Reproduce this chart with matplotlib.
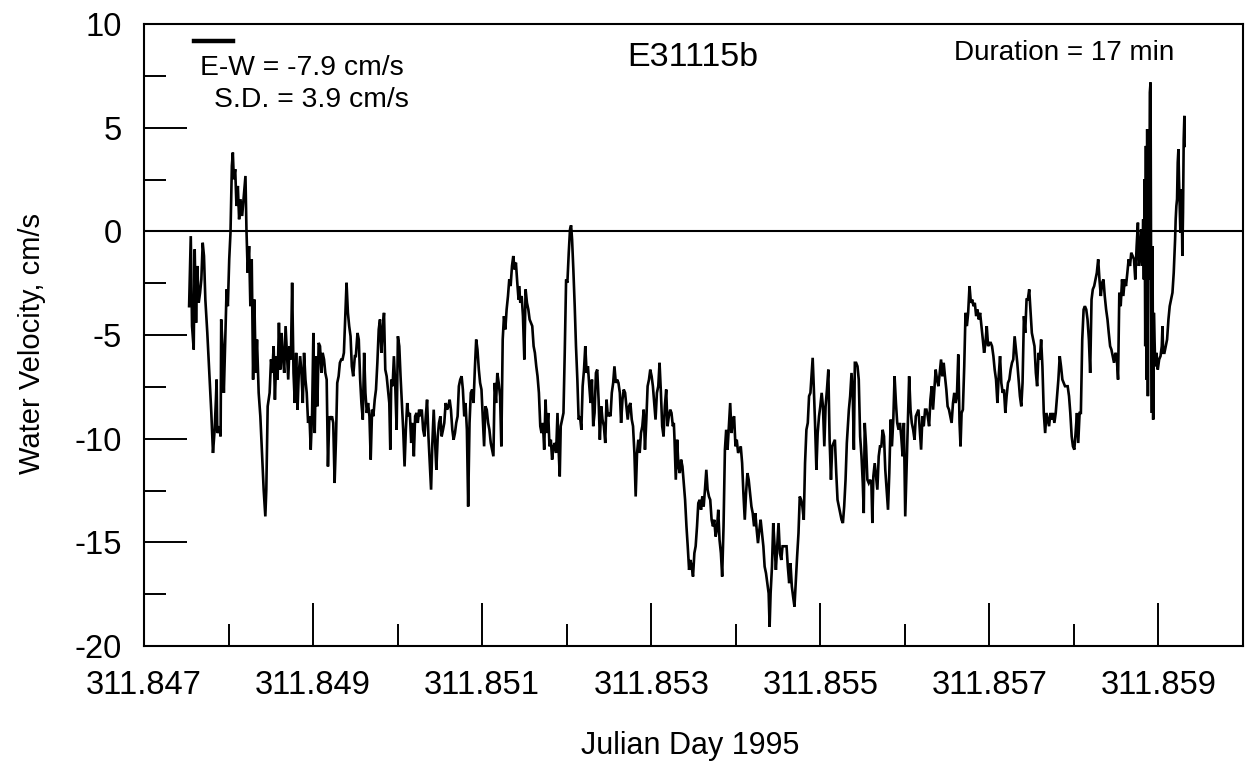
import numpy as np
import matplotlib
matplotlib.use("Agg")
import matplotlib.pyplot as plt
from matplotlib.ticker import FixedLocator, FixedFormatter, NullFormatter
from matplotlib.lines import Line2D

plt.rcParams['font.family'] = ['Liberation Sans', 'DejaVu Sans']
plt.rcParams['axes.unicode_minus'] = False

# Record start reference (Julian day) and elapsed time of each sample, in seconds
DAY0 = 311.847
seconds = [
    46.1, 47.8, 49.1, 50.1, 50.8, 51.8, 53.2, 54.5, 55.9, 57.3, 58.6, 60.0, 61.3, 62.7, 64.7, 66.7,
    68.8, 70.5, 72.2, 73.5, 74.2, 74.9, 76.9, 78.3, 78.9, 80.3, 81.6, 83.0, 84.4, 85.7, 87.1, 88.4,
    89.8, 90.8, 91.8, 93.2, 94.5, 95.9, 97.2, 98.6, 100.3, 102.0, 103.7, 104.7, 106.0, 107.4, 108.7,
    110.1, 111.5, 112.8, 114.2, 115.5, 117.2, 118.9, 120.6, 122.3, 124.0, 125.0, 126.4, 128.4, 129.8,
    131.1, 132.5, 133.8, 135.2, 136.5, 137.9, 139.2, 140.6, 141.9, 143.3, 144.7, 146.0, 147.4, 148.7,
    150.1, 151.4, 152.8, 154.1, 155.5, 156.9, 158.2, 159.6, 160.9, 162.3, 163.6, 165.0, 166.3, 167.7,
    169.1, 170.4, 171.8, 173.1, 174.5, 175.8, 177.2, 178.5, 179.9, 181.3, 182.6, 184.0, 185.3, 186.7,
    188.0, 189.4, 190.7, 192.1, 193.4, 194.8, 196.2, 197.5, 198.9, 200.2, 201.6, 202.9, 204.3, 205.6,
    207.0, 208.4, 209.7, 211.1, 212.4, 213.8, 215.5,
    216.5, 218.2, 219.5, 220.9, 222.2, 223.6, 225.0, 226.3, 227.7, 229.0, 230.4, 231.7, 233.1, 234.4,
    235.8, 237.1, 238.5, 239.9, 241.2, 242.6, 243.9, 245.3, 246.6, 248.0, 249.3, 250.7, 251.7, 252.7,
    254.1, 255.4, 256.8, 258.2, 259.5, 260.9, 262.2, 263.6, 264.9, 266.3, 267.6, 269.0, 270.3, 271.7,
    273.1, 274.4, 275.8, 277.1, 278.5, 279.8, 281.2, 282.5, 283.9, 285.3, 286.6, 288.0, 289.3, 290.7,
    292.0, 293.4, 294.7, 296.1, 297.5, 298.8, 300.2, 301.5, 302.9, 304.2, 305.6, 306.9, 308.3, 309.7,
    311.0, 312.4, 313.7, 315.1, 316.4, 317.8, 319.1, 320.5, 321.8, 323.2, 324.6, 325.9, 327.3, 328.6,
    330.0, 331.3, 332.7, 334.0, 335.4, 336.8, 338.1, 339.5, 340.8, 342.2, 343.5, 344.9, 346.2, 347.6,
    348.9, 350.3, 351.7, 353.0, 354.4, 355.7, 357.1, 358.4, 359.8, 361.1, 362.5, 363.9, 365.2, 366.6,
    367.9, 369.3, 370.6, 372.0, 373.3, 374.7, 376.1, 377.4, 378.8, 380.1, 381.5, 382.8,
    383.3, 384.6, 386.0, 387.3, 388.7, 390.0, 391.4, 392.8, 394.1, 395.5, 396.8, 398.2, 399.5, 400.9,
    402.2, 403.6, 405.0, 406.3, 407.7, 409.0, 410.4, 411.7, 413.1, 414.4, 415.8, 417.1, 418.5, 419.9,
    421.2, 422.6, 423.9, 424.9, 425.9, 427.3, 428.7, 430.0, 431.4, 432.7, 434.1, 435.4, 436.5, 437.5,
    438.8, 440.2, 441.5, 442.9, 444.2, 445.6, 447.0, 448.3, 449.7, 451.0, 452.4, 453.7, 455.1, 456.4,
    457.8, 459.1, 460.5, 461.9, 463.2, 464.6, 465.9, 467.3, 468.6, 470.0, 471.4, 472.7, 474.1, 475.4,
    476.8, 478.1, 479.5, 480.8, 482.2, 483.5, 484.9, 486.3, 487.6, 489.0, 490.3, 491.7, 493.0, 494.4,
    495.7, 497.1, 498.5, 499.8, 501.2, 502.5, 503.9, 505.2, 506.6, 507.9, 509.3, 510.7, 512.0, 513.4,
    514.7, 516.1, 517.4, 518.8, 520.1, 521.5, 522.8, 524.2, 525.6, 526.9, 528.3, 529.6, 531.0, 532.3,
    533.7, 535.0, 536.4, 537.8, 539.1, 540.5,
    541.5, 542.2, 543.5, 544.9, 546.2, 547.6, 548.9, 550.3, 551.6, 553.0, 554.4, 555.7, 557.1, 558.4,
    559.8, 561.1, 562.5, 563.8, 565.2, 566.5, 567.9, 569.3, 570.6, 572.0, 573.3, 574.7, 576.0, 577.4,
    578.7, 580.1, 581.5, 582.8, 584.2, 585.5, 586.9, 588.2, 589.6, 590.9, 592.3, 593.7, 595.0, 596.4,
    597.7, 599.1, 600.4, 601.8, 603.1, 604.5, 605.8, 607.2, 608.6, 609.9, 611.3, 612.6, 614.0, 615.3,
    616.7, 618.0, 619.4, 620.8, 622.1, 623.5, 624.8, 626.2, 627.5, 628.9, 630.2, 631.6, 633.0, 634.3,
    635.7, 637.0, 638.4, 639.4, 640.4, 641.8, 643.1, 644.5, 645.8, 647.2, 648.5, 649.9, 651.3, 652.6,
    654.0, 655.3, 656.7, 658.0, 659.4, 660.7, 662.1, 663.4, 664.8, 666.2, 667.5, 668.9, 670.2, 671.6,
    672.9, 674.3, 675.6, 677.0, 678.4, 679.7, 681.1, 682.4, 683.4, 684.5, 685.8, 687.2, 688.5, 689.9,
    691.2, 692.6, 693.9, 695.3, 696.6, 698.0, 699.4, 700.7, 702.1, 703.4, 704.8, 706.1, 707.5, 708.8,
    710.2, 711.6, 712.9, 714.3, 715.6, 717.0, 718.3,
    720.4, 721.7, 723.1, 724.4, 725.5, 726.5, 727.8, 729.2, 730.5, 731.9, 733.3, 734.6, 735.6, 736.6,
    738.0, 739.3, 740.7, 742.1, 743.4, 744.4, 745.4, 746.8, 748.2, 749.5, 750.9, 752.2, 753.6, 754.9,
    756.3, 757.6, 759.0, 760.4, 761.7, 763.1, 764.4, 765.8, 767.1, 768.5, 769.8, 771.2, 772.6, 773.9,
    775.3, 776.6, 778.0, 779.3, 780.7, 782.0, 783.4, 784.7, 786.1, 787.5, 788.8, 790.2, 791.5, 792.9,
    794.2, 795.6, 796.9, 798.3, 799.7, 801.0, 802.4, 803.7, 805.1, 806.4, 807.8, 809.1, 810.5, 811.9,
    813.2, 814.6, 815.9, 817.3, 818.6, 820.0, 821.3, 822.7, 824.0, 825.4, 826.8, 828.1, 829.5, 830.8,
    832.2, 833.5, 834.5, 835.6, 836.9, 838.3, 839.6, 841.0, 842.3, 843.7, 845.1, 846.4, 847.8, 849.1,
    850.5, 851.8, 853.2, 854.5, 855.9, 857.3, 858.6, 860.0, 861.3, 862.7, 864.0, 865.4, 866.7, 868.1,
    869.4, 870.8, 872.2, 873.5, 874.9, 876.2, 877.6, 878.9, 880.3, 881.6, 883.0, 884.4, 885.7, 887.1,
    888.4, 889.8, 891.1,
    892.5, 893.9, 895.2, 896.6, 897.9, 899.3, 900.6, 902.0, 903.3, 904.7, 906.1, 907.4, 908.8, 910.1,
    911.5, 912.8, 914.2, 915.5, 916.9, 918.2, 919.6, 921.0, 922.3, 923.7, 925.0, 926.4, 927.7, 929.1,
    930.4, 931.8, 933.2, 934.5, 935.9, 937.2, 938.6, 939.9, 941.3, 942.6, 944.0, 945.4, 946.7, 948.1,
    949.4, 950.8, 952.1, 953.5, 954.8, 956.2, 957.5, 958.9, 960.3, 961.6, 963.0, 964.3, 965.7, 967.0,
    968.4, 969.7, 971.1, 972.5, 973.8, 975.2, 976.5, 977.9, 979.2, 980.6, 981.9, 983.3, 984.7, 986.0,
    987.4, 988.7, 990.1, 991.4, 992.8, 994.1, 995.5, 996.8, 998.2, 999.6, 1000.9, 1002.3, 1003.6,
    1005.0, 1006.3, 1007.7, 1009.0, 1010.4, 1011.8, 1013.1, 1014.5, 1015.8, 1016.8, 1017.9, 1019.2,
    1020.2, 1021.2, 1021.9, 1022.6, 1023.3, 1024.0, 1024.6, 1025.3, 1026.0, 1026.7, 1027.3, 1028.0,
    1028.7, 1029.4, 1030.1, 1030.7, 1031.4, 1032.1, 1032.8, 1033.4, 1034.1, 1034.8, 1036.1, 1037.5,
    1038.9, 1040.2, 1040.9, 1041.6, 1042.9, 1044.3, 1045.6, 1047.0, 1048.3, 1049.7, 1051.1, 1052.4,
    1053.8, 1054.4, 1055.1, 1055.8, 1056.5, 1057.2, 1057.8, 1058.5, 1059.2, 1059.9, 1060.5, 1061.2,
    1061.9, 1062.6, 1063.3, 1063.6,
]

# East-west water velocity, cm/s
velocity = [
    -3.61, -0.23, -4.57, -5.22, -5.70, -0.87, -4.41, -1.67, -3.45, -2.96, -2.32, -0.55, -1.19, -3.29, -4.90, -6.83,
    -8.76, -10.69, -9.57, -8.12, -7.15, -9.73, -9.40, -9.89, -4.25, -5.54, -7.79, -5.22, -2.80, -3.61, -1.35, -0.06,
    3.16, 3.80, 2.51, 3.00, 1.22, 2.19, 0.58, 1.55, 0.74, 1.71, 2.67, 0.10, -2.00, -0.71, -3.61,
    -1.35, -7.15, -3.29, -6.83, -5.22, -7.79, -8.92, -10.69, -12.46, -13.75, -12.46, -8.44, -7.79, -6.18,
    -6.83, -5.54, -8.12, -6.02, -7.15, -4.41, -6.67, -4.90, -6.02, -6.83, -4.57, -5.86, -7.15, -5.54,
    -6.18, -2.48, -6.83, -8.28, -5.86, -8.60, -6.83, -6.02, -6.83, -8.28, -5.86, -7.15, -7.79, -9.24,
    -8.92, -10.53, -8.76, -4.90, -9.73, -6.02, -8.44, -5.38, -5.54, -6.83, -5.86, -6.18, -6.83, -7.15,
    -11.34, -8.92, -9.08, -8.92, -9.24, -12.14, -10.05, -7.31, -6.99, -6.34, -6.18, -6.18, -5.86, -4.25,
    -2.48, -3.93, -4.57, -5.06, -6.51, -6.99, -6.02,
    -6.02, -4.90, -5.22, -7.15, -8.28, -9.08, -5.86, -7.79, -8.76, -8.28, -8.92, -11.01, -8.60, -8.92,
    -8.12, -7.63, -6.34, -4.73, -4.25, -5.86, -4.73, -3.93, -6.67, -6.99, -7.63, -8.28, -10.53, -7.15,
    -7.47, -6.02, -7.47, -9.57, -5.06, -5.54, -6.99, -8.28, -9.57, -11.34, -9.57, -8.28, -8.92, -8.76,
    -10.21, -9.24, -10.85, -8.92, -8.76, -9.24, -8.60, -8.92, -8.60, -9.57, -9.89, -8.92, -8.12, -9.89,
    -11.18, -12.46, -10.21, -8.60, -10.21, -11.50, -9.89, -9.24, -8.92, -9.89, -9.57, -9.24, -8.28, -8.60,
    -8.44, -8.12, -8.60, -9.57, -10.05, -9.73, -9.24, -8.92, -7.47, -7.15, -6.99, -7.63, -8.92, -8.28,
    -9.57, -13.27, -9.24, -7.79, -7.63, -8.28, -6.67, -5.22, -5.70, -6.67, -7.31, -7.63, -8.92, -10.37,
    -8.44, -8.60, -9.24, -9.57, -10.21, -10.53, -10.85, -7.31, -8.28, -6.83, -7.31, -7.95, -10.37, -5.22,
    -4.09, -4.73, -3.77, -3.12, -2.32, -2.64, -1.67, -1.19, -1.84, -1.51, -2.48, -3.29,
    -2.64, -3.45, -3.12, -4.09, -6.18, -2.80, -3.45, -3.77, -4.25, -4.41, -4.57, -5.54, -5.86, -6.51,
    -6.99, -7.79, -9.40, -9.73, -9.24, -10.53, -8.12, -9.73, -8.76, -10.37, -10.05, -11.01, -10.37, -10.21,
    -10.69, -8.76, -10.69, -11.82, -9.40, -9.08, -8.76, -5.86, -2.32, -2.48, -1.03, 0.10, 0.29, -0.39,
    -1.84, -3.61, -5.54, -7.15, -9.08, -8.92, -9.57, -7.47, -6.67, -5.54, -6.83, -6.51, -7.47, -8.28,
    -7.15, -9.40, -8.76, -6.83, -6.67, -8.12, -10.05, -8.44, -9.08, -9.40, -10.21, -8.12, -8.92, -8.76,
    -8.92, -7.79, -7.31, -6.51, -7.31, -7.15, -7.31, -7.79, -9.24, -8.12, -7.63, -7.79, -8.44, -9.08,
    -8.44, -8.28, -9.08, -9.40, -10.69, -12.79, -10.69, -10.05, -10.69, -9.73, -9.40, -8.60, -10.53, -9.08,
    -7.47, -7.15, -6.67, -6.99, -7.47, -8.28, -9.08, -7.79, -7.47, -6.34, -7.79, -9.40, -9.89, -8.44,
    -7.63, -9.40, -8.92, -8.60, -8.76, -9.40,
    -9.24, -10.05, -11.98, -10.05, -11.34, -11.66, -11.01, -11.34, -12.14, -12.95, -14.23, -15.19, -16.33, -15.85,
    -16.17, -16.65, -15.52, -15.19, -14.23, -13.11, -12.95, -13.43, -12.79, -13.27, -12.46, -11.50, -12.46, -12.79,
    -12.95, -13.91, -14.23, -13.91, -14.72, -14.40, -13.43, -14.88, -15.52, -16.65, -14.23, -10.53, -9.57, -10.53,
    -9.40, -8.28, -9.73, -9.08, -8.92, -10.37, -10.05, -10.69, -10.53, -10.37, -11.18, -12.63, -13.91, -12.63,
    -11.66, -11.98, -12.63, -13.27, -13.59, -14.23, -13.59, -14.40, -15.04, -14.40, -13.91, -14.56, -15.19, -16.17,
    -16.49, -16.97, -17.46, -19.07, -17.46, -16.17, -14.07, -15.19, -16.33, -15.19, -14.07, -15.52, -15.85, -15.19,
    -15.19, -15.19, -15.19, -16.17, -16.97, -16.01, -17.13, -17.62, -18.10, -16.81, -15.68, -14.56, -12.79, -12.95,
    -13.27, -13.91, -11.18, -9.57, -9.24, -7.95, -7.79, -6.83, -6.10, -7.47, -9.24, -11.50, -9.73, -8.92,
    -8.44, -7.79, -8.44, -10.37, -8.44, -7.63, -6.67, -10.05, -11.98, -10.37, -10.21, -10.05, -11.66, -12.95,
    -13.27, -13.59, -13.91, -14.07, -13.27, -11.98, -10.21,
    -8.60, -7.95, -6.83, -7.95, -10.53, -6.34, -6.34, -6.51, -7.15, -9.89, -10.85, -12.14, -13.59, -9.24,
    -10.37, -11.98, -12.14, -11.98, -12.14, -14.07, -11.82, -11.18, -11.82, -12.46, -10.85, -10.37, -10.37, -9.57,
    -9.89, -11.50, -12.46, -13.43, -11.66, -9.08, -10.37, -9.08, -6.99, -8.28, -9.24, -9.57, -9.24, -9.89,
    -10.85, -9.24, -13.75, -11.50, -9.08, -6.99, -8.60, -9.24, -9.57, -10.05, -8.92, -8.76, -8.60, -9.57,
    -10.53, -8.92, -9.40, -8.60, -8.60, -8.92, -9.40, -8.12, -7.47, -8.60, -7.63, -6.67, -7.15, -7.47,
    -6.83, -6.18, -6.99, -6.34, -6.99, -7.63, -8.44, -8.60, -8.92, -9.24, -8.28, -7.79, -8.28, -7.95,
    -5.94, -9.24, -10.37, -8.76, -8.60, -6.51, -3.93, -4.57, -3.93, -2.64, -3.45, -3.29, -3.61, -3.45,
    -4.09, -3.77, -4.25, -3.93, -4.57, -5.22, -5.86, -5.38, -4.57, -5.54, -5.38, -5.38, -5.54, -6.02,
    -6.67, -7.15, -8.28, -6.99, -6.02, -7.31, -7.79, -7.63, -8.76, -7.95, -7.31, -7.15, -6.67, -6.34,
    -6.18, -5.06, -5.70,
    -6.34, -7.15, -7.95, -8.44, -7.31, -4.09, -4.90, -3.29, -3.29, -2.80, -3.93, -4.90, -5.22, -5.54,
    -6.83, -7.47, -5.86, -6.18, -5.22, -6.51, -8.76, -9.73, -8.76, -9.08, -9.40, -8.76, -9.08, -8.76,
    -9.24, -8.76, -7.95, -7.15, -6.02, -6.51, -7.15, -7.31, -7.47, -7.47, -7.47, -7.95, -8.76, -9.89,
    -10.37, -10.53, -9.73, -8.76, -10.21, -8.76, -8.76, -5.22, -3.77, -3.61, -3.77, -4.25, -5.22, -6.83,
    -3.29, -2.80, -2.64, -2.32, -2.00, -1.35, -2.32, -3.12, -2.48, -2.32, -3.12, -3.77, -4.25, -4.90,
    -5.54, -5.70, -6.02, -6.34, -5.86, -6.02, -7.15, -2.96, -3.61, -2.32, -3.12, -2.32, -2.64,
    -2.00, -1.35, -1.67, -1.03, -1.19, -1.35, -2.32, -0.71, 0.42, -1.67, -1.19, 0.10,
    -1.67, 0.58, -2.32, 2.51, -5.54, 4.12, -7.15, 4.93, -7.95, 3.32, -2.32, 6.70,
    7.18, -3.93, -8.76, -0.71, -9.08, -3.93, -5.22, -6.34, -6.51, -5.86, -6.67, -6.18,
    -6.02, -5.54, -4.57, -5.86, -5.86, -5.54, -5.22, -4.25, -3.61, -3.29, -2.96, -2.00,
    -0.39, 0.58, 1.22, 1.55, 3.32, 3.96, 2.51, 1.22, -0.06, 1.06, 2.03, -1.19,
    0.90, 4.44, 5.57, 4.12,
]

x_major = [311.847, 311.849, 311.851, 311.853, 311.855, 311.857, 311.859]
x_major_labels = ["311.847", "311.849", "311.851", "311.853", "311.855", "311.857", "311.859"]
x_minor = [311.848, 311.850, 311.852, 311.854, 311.856, 311.858]
y_major = [-20, -15, -10, -5, 0, 5, 10]
y_minor = [-17.5, -12.5, -7.5, -2.5, 2.5, 7.5]

record_id = "E31115b"
mean_text = "E-W = -7.9 cm/s"
sd_text = "S.D. = 3.9 cm/s"
duration_text = "Duration = 17 min"

W, H = 1247, 762
fig = plt.figure(figsize=(W / 100, H / 100), dpi=100)
ax = fig.add_axes([144 / W, 1 - 646 / H, 1099 / W, 622 / H])

day = DAY0 + np.asarray(seconds) / 86400.0
ax.plot(day, velocity, color='black', lw=1.9, solid_joinstyle='miter')
ax.axhline(0, color='black', lw=1.5)

ax.set_xlim(311.847, 311.860)
ax.set_ylim(-20, 10)

ax.xaxis.set_major_locator(FixedLocator(x_major))
ax.xaxis.set_major_formatter(FixedFormatter(x_major_labels))
ax.xaxis.set_minor_locator(FixedLocator(x_minor))
ax.xaxis.set_minor_formatter(NullFormatter())
ax.yaxis.set_major_locator(FixedLocator(y_major))
ax.yaxis.set_minor_locator(FixedLocator(y_minor))
ax.yaxis.set_minor_formatter(NullFormatter())

ax.tick_params(which='both', direction='in', top=False, right=False, width=1.4, colors='black')
ax.tick_params(which='major', length=31, labelsize=23.5)
ax.tick_params(which='minor', length=15.5)
ax.tick_params(axis='x', which='major', pad=17)
ax.tick_params(axis='y', which='major', pad=16)
for sp in ax.spines.values():
    sp.set_linewidth(1.5)
    sp.set_color('black')

# Axis titles
fig.text(690 / W, 1 - 746 / H, "Julian Day 1995", ha='center', va='center', fontsize=22)
fig.text(32 / W, 1 - 344 / H, "Water Velocity, cm/s", ha='center', va='center',
         rotation=90, fontsize=21)

# Statistics block with the mean bar
fig.add_artist(Line2D([194 / W, 233 / W], [1 - 41 / H, 1 - 41 / H], color='black', lw=3.2))
fig.text(200 / W, 1 - 75 / H, mean_text, ha='left', va='baseline', fontsize=20.3)
fig.text(214 / W, 1 - 107 / H, sd_text, ha='left', va='baseline', fontsize=20.3)
fig.text(693 / W, 1 - 66 / H, record_id, ha='center', va='baseline', fontsize=24.5)
fig.text(1064 / W, 1 - 60 / H, duration_text, ha='center', va='baseline', fontsize=20.1)

fig.savefig("out.png", dpi=100)
